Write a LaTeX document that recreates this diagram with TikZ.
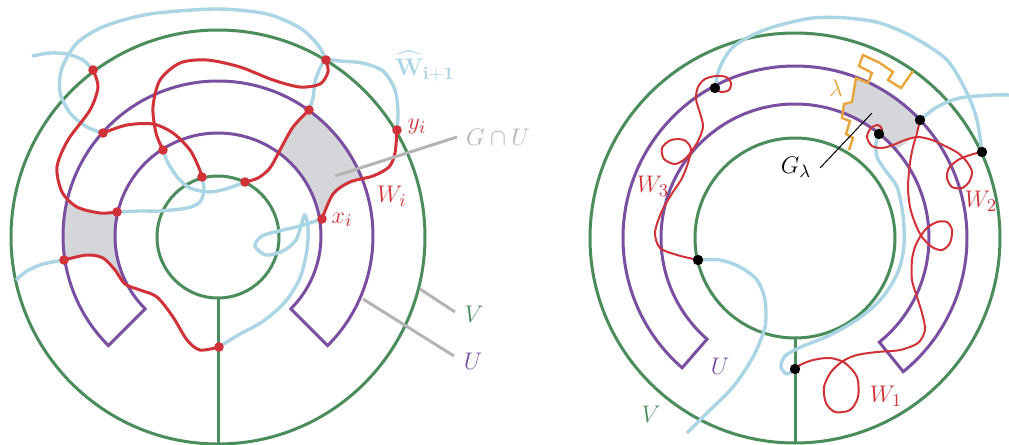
\documentclass[tikz,border=0pt]{standalone}
\usepackage{amsmath,amssymb}
\definecolor{vgreen}{RGB}{74,140,90}
\definecolor{upurple}{RGB}{122,78,160}
\definecolor{wred}{RGB}{208,50,56}
\definecolor{lblue}{RGB}{170,213,228}
\definecolor{gfill}{RGB}{213,214,217}
\definecolor{leadgray}{RGB}{180,180,180}
\definecolor{lamorange}{RGB}{232,165,60}
\newcommand{\ULeftPath}{(218,236) ++(135:155) arc[start angle=135,end angle=405,radius=155] -- ++(225:52) arc[start angle=45,end angle=-225,radius=103] -- cycle}
\newcommand{\URightPath}{(795,238) ++(131:172) arc[start angle=131,end angle=411,radius=172] -- ++(231:38) arc[start angle=51,end angle=-229,radius=134] -- cycle}
\begin{document}
\begin{tikzpicture}[x=0.5pt,y=-0.5pt,
  every node/.style={font=\fontsize{12.5}{15}\selectfont},
  greenline/.style={draw=vgreen,line width=1.5pt},
  purpleline/.style={draw=upurple,line width=1.5pt},
  blueline/.style={draw=lblue,line width=1.7pt},
  redline/.style={draw=wred,line width=1.5pt},
  thinred/.style={draw=wred,line width=1pt},
  rdot/.style={circle,fill=wred,inner sep=0pt,minimum size=4.8pt},
  kdot/.style={circle,fill=black,inner sep=0pt,minimum size=5.2pt},
  leader/.style={draw=leadgray,line width=1.5pt},
  lamline/.style={draw=lamorange,line width=1.2pt},
]
\useasboundingbox (0,0) rectangle (1009,445);

% ---------- coordinates of the points ----------
\coordinate (c1) at (93,70);
\coordinate (c2) at (326,60);
\coordinate (c3) at (103,133);
\coordinate (c4) at (163,150);
\coordinate (c5) at (309,110);
\coordinate (c6) at (202,177);
\coordinate (c7) at (245,182);
\coordinate (c8) at (117,212);
\coordinate (c9) at (322,219);
\coordinate (c10) at (397,130);
\coordinate (c11) at (64,260);
\coordinate (c12) at (219,347);

\coordinate (k1) at (715,88);
\coordinate (k2) at (879,134);
\coordinate (k3) at (920,120);
\coordinate (k4) at (982,152);
\coordinate (k5) at (698,260);
\coordinate (k6) at (795,369);

% ---------- grey regions ----------
\begin{scope}
\clip \ULeftPath;
\fill[gfill] plot[smooth] coordinates {(c7) (258,178) (270,168) (280,150) (293,127) (c5)}
  -- plot[smooth] coordinates {(c10) (395,153) (389,167) (373,176) (350,182) (333,194) (c9)} -- cycle;
\fill[gfill] plot[smooth] coordinates {(c1) (98,87) (90,110) (68,140) (57,167) (62,192) (77,207) (100,213) (c8)}
  -- plot[smooth] coordinates {(c12) (200,350) (187,340) (173,317) (157,297) (140,290) (125,284) (115,270) (103,258) (87,255) (c11)}
  -- (30,250) -- (35,150) -- (70,55) -- cycle;
\end{scope}
\begin{scope}
\clip \URightPath;
\fill[gfill] (856,78) -- (852,102) -- (844,104) -- (842,118) -- (880,160) -- (897,149)
  -- (903,145) -- (911,139) -- (917,131) -- (k3) -- (935,100) -- cycle;
\end{scope}

% ---------- left figure: V and U ----------
\draw[greenline] (218,237) circle[radius=207];
\draw[greenline] (218,237) circle[radius=61];
\coordinate (lv1) at (218,298);
\coordinate (lv2) at (218,444);
\draw[greenline] (lv1) -- (lv2);
\draw[purpleline] \ULeftPath;

% ---------- right figure: V and U ----------
\draw[greenline] (795,238) circle[radius=205];
\draw[greenline] (795,238) circle[radius=100];
\coordinate (rv1) at (795,338);
\coordinate (rv2) at (795,443);
\draw[greenline] (rv1) -- (rv2);
\draw[purpleline] \URightPath;

% lambda
\coordinate (lam0) at (913,71);
\coordinate (lam1) at (849,150);
\draw[lamline] (lam0) -- (901,88) -- (888,80) -- (893,72) -- (880,63) -- (863,55) -- (859,66)
  -- (872,73) -- (868,83) -- (856,78) -- (852,102) -- (844,104) -- (842,118) -- (850,121)
  -- (846,134) -- (853,138) -- (lam1);

% ---------- light blue paths (left) ----------
\coordinate (b1s) at (32,56);
\coordinate (b5e) at (16,280);
\draw[blueline] plot[smooth] coordinates {(b1s) (50,53) (67,54) (83,60) (c1)};
\draw[blueline] plot[smooth] coordinates {(c3) (87,127) (70,113) (60,92) (62,68) (77,43) (105,26) (150,14) (217,9) (267,14) (300,28) (318,45) (c2)};
\draw[blueline] plot[smooth] coordinates {(c5) (313,98) (315,82) (320,68) (c2) (340,61) (362,63) (383,71) (395,90) (398,112) (c10)};
\draw[blueline] plot[smooth] coordinates {(c4) (168,163) (178,178) (190,188) (208,192) (226,189) (c7)};
\draw[blueline] plot[smooth] coordinates {(c6) (204,190) (200,202) (187,208) (160,211) (140,211) (c8)};
\draw[blueline] plot[smooth] coordinates {(c11) (43,264) (27,271) (b5e)};
\draw[blueline] plot[smooth] coordinates {(c9) (300,226) (283,230) (262,236) (255,246) (266,255) (283,251) (296,240) (302,222) (305,215) (308,228) (307,250) (300,278) (285,302) (262,322) (240,334) (c12)};

% ---------- red paths (left) ----------
\draw[redline] plot[smooth] coordinates {(c1) (98,87) (90,110) (68,140) (57,167) (62,192) (77,207) (100,213) (c8)};
\draw[redline] plot[smooth] coordinates {(c3) (127,125) (153,124) (173,133) (190,150) (199,168) (c6)};
\draw[redline] plot[smooth] coordinates {(c2) (328,72) (320,84) (300,87) (273,80) (240,67) (207,60) (180,63) (160,80) (153,107) (156,133) (c4)};
\draw[redline] plot[smooth] coordinates {(c7) (258,178) (270,168) (280,150) (293,127) (c5)};
\draw[redline] plot[smooth] coordinates {(c10) (395,153) (389,167) (373,176) (350,182) (333,194) (c9)};
\draw[redline] plot[smooth] coordinates {(c12) (200,350) (187,340) (173,317) (157,297) (140,290) (125,284) (115,270) (103,258) (87,255) (c11)};

% ---------- light blue paths (right) ----------
\coordinate (rb2e) at (1009,95);
\coordinate (rb4e) at (687,433);
\draw[blueline] plot[smooth] coordinates {(k1) (720,67) (733,47) (757,33) (780,25) (813,18) (847,18) (880,23) (913,37) (947,60) (967,93) (977,120) (k4)};
\draw[blueline] plot[smooth] coordinates {(k3) (937,107) (960,98) (993,95) (rb2e)};
\draw[blueline] plot[smooth] coordinates {(k2) (876,143) (877,157) (885,170) (897,187) (903,215) (904,245) (898,272) (882,298) (858,319) (828,336) (801,347) (785,356) (781,367) (787,374) (k6)};
\draw[blueline] plot[smooth] coordinates {(k5) (720,260) (740,267) (757,280) (765,300) (765,327) (753,357) (733,387) (707,413) (rb4e)};

% ---------- red paths (right) ----------
\draw[thinred] plot[smooth] coordinates {(k1) (721,92) (729,90) (731,83) (726,77) (716,76) (705,79) (698,87) (696,99) (700,113) (703,127) (697,143) (686,158) (675,164) (664,159) (662,148) (671,140) (684,140) (691,149) (687,166) (681,180) (671,195) (661,213) (655,233) (660,248) (677,255) (k5)};
\draw[thinred] plot[smooth] coordinates {(k4) (970,155) (958,160) (949,168) (947,178) (952,187) (962,188) (969,182) (972,172) (967,162) (958,153) (945,146) (932,140) (918,137) (905,140) (893,145) (882,148) (872,146) (867,137) (871,128) (878,125) (882,129) (k2)};
\draw[thinred] plot[smooth] coordinates {(k6) (800,365) (813,360) (830,358) (845,363) (857,377) (858,397) (850,410) (835,412) (826,403) (824,387) (831,372) (843,361) (857,355) (877,352) (900,350) (918,343) (925,330) (922,313) (917,297) (912,280) (912,260) (915,247) (920,237) (927,228) (937,222) (947,222) (952,230) (950,243) (942,250) (932,247) (922,237) (915,223) (910,207) (908,187) (910,163) (913,147) (917,133) (k3)};

% ---------- dots ----------
\foreach \i in {1,...,12} { \node[rdot] (d\i) at (c\i) {}; }
\foreach \i in {1,...,6} { \node[kdot] (kd\i) at (k\i) {}; }

% ---------- leaders and labels (left) ----------
\coordinate (gl1) at (335,176);
\coordinate (gl2) at (457,137);
\draw[leader] (gl1) -- (gl2);
\coordinate (vl1) at (420,289);
\coordinate (vl2) at (455,312);
\draw[leader] (vl1) -- (vl2);
\coordinate (ul1) at (363,299);
\coordinate (ul2) at (454,356);
\draw[leader] (ul1) -- (ul2);

\node[text=lblue] (what) at (425,66) {$\widehat{\mathbf{W}}_{\mathbf{i+1}}$};
\node[text=wred] (yi) at (417,127) {$y_i$};
\node[text=leadgray] (gcu) at (498,137) {$G\cap U$};
\node[text=wred] (wi) at (392,196) {$W_i$};
\node[text=wred] (xi) at (342,220) {$x_i$};
\node[text=vgreen] (vlab) at (474,314) {$V$};
\node[text=upurple] (ulab) at (473,361) {$U$};

% ---------- labels (right) ----------
\coordinate (gll1) at (820,168);
\coordinate (gll2) at (872,113);
\draw[black,line width=0.5pt] (gll1) -- (gll2);
\node[text=wred] (w3) at (653,186) {$W_3$};
\node[text=wred] (w2) at (981,201) {$W_2$};
\node[text=wred] (w1) at (886,396) {$W_1$};
\node[text=upurple] (ulab2) at (720,366) {$U$};
\node[text=vgreen] (vlab2) at (651,414) {$V$};
\node (glam) at (796,167) {$G_\lambda$};
\node[text=lamorange] (lamlab) at (836,88) {$\lambda$};
\end{tikzpicture}
\end{document}
